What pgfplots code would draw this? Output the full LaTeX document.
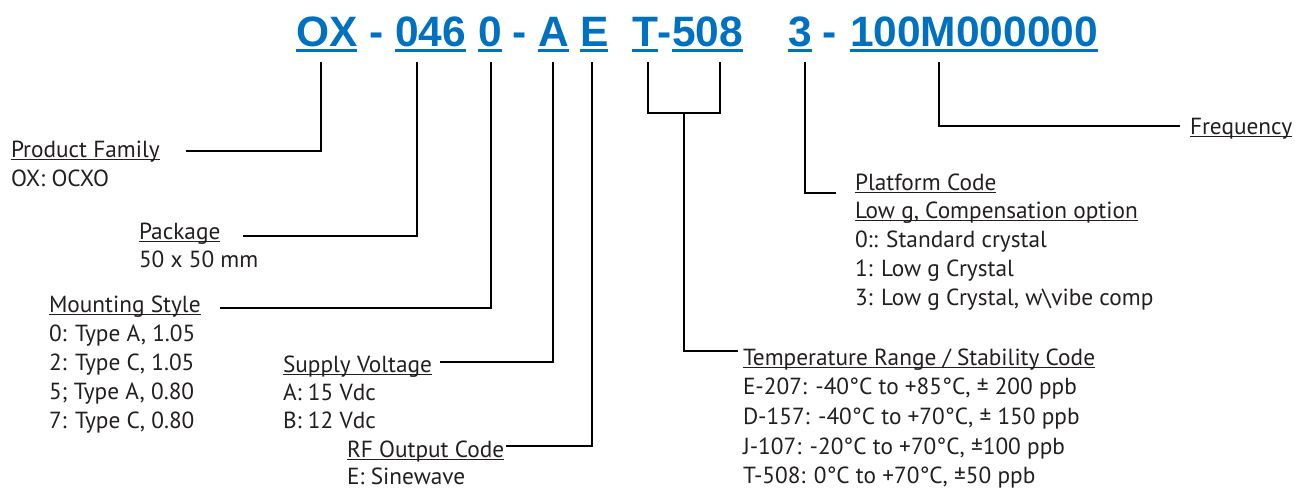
\documentclass[border=0pt]{standalone}
\usepackage{pgfplots}
\pgfplotsset{compat=1.18}
\usepackage{fontspec}
\setmainfont{PT Sans}
\newfontfamily\hdr{Liberation Sans}
\definecolor{code}{RGB}{0,112,192}
\definecolor{txt}{RGB}{35,31,32}
\newcommand\ul[1]{\setbox0\hbox{#1}\rlap{\rule[-3pt]{\wd0}{1.2pt}}\box0}
\newcommand\hul[1]{\setbox0\hbox{#1}\rlap{\rule[-5pt]{\wd0}{3pt}}\box0}
\tikzset{t/.style={anchor=base west,inner sep=0pt,outer sep=0pt,font=\fontsize{23.3}{29}\selectfont,text=txt},
 h/.style={anchor=base west,inner sep=0pt,outer sep=0pt,font=\hdr\bfseries\fontsize{42.5}{50}\selectfont,text=code,color=code},
 c/.style={black,solid,line width=2.4pt,mark=none,line join=miter}}
\begin{document}
\begin{tikzpicture}
\begin{axis}[name=ax, width=1295pt, height=487pt, scale only axis,
  xmin=0, xmax=1295, ymin=0, ymax=487, y dir=reverse, hide axis, clip=false]
% connector lines
\addplot[c] coordinates {(321,62) (321,151) (186,151)};
\addplot[c] coordinates {(417,62) (417,236) (243,236)};
\addplot[c] coordinates {(491,62) (491,308) (220,308)};
\addplot[c] coordinates {(553,62) (553,362) (440,362)};
\addplot[c] coordinates {(592,62) (592,446) (506,446)};
\addplot[c] coordinates {(648,62) (648,113) (720,113) (720,62)};
\addplot[c] coordinates {(684,113) (684,351) (738,351)};
\addplot[c] coordinates {(805,62) (805,193) (836,193)};
\addplot[c] coordinates {(939,62) (939,126) (1180,126)};
% header
\node[h] at (axis cs:296,47) {\hul{OX}};
\node[h] at (axis cs:369,47) {-};
\node[h] at (axis cs:395,47) {\hul{046}};
\node[h] at (axis cs:478,47) {\hul{0}};
\node[h] at (axis cs:512,47) {-};
\node[h] at (axis cs:538,47) {\hul{A}};
\node[h] at (axis cs:580,47) {\hul{E}};
\node[h] at (axis cs:632,47) {\hul{T}-\hul{508}};
\node[h] at (axis cs:788,47) {\hul{3}};
\node[h] at (axis cs:822,47) {-};
\node[h] at (axis cs:850,47) {\hul{100M000000}};
% left texts
\node[t] at (axis cs:11,157) {\ul{Product Family}};
\node[t] at (axis cs:11,186) {OX: OCXO};
\node[t] at (axis cs:139,239) {\ul{Package}};
\node[t] at (axis cs:139,267) {50 x 50 mm};
\node[t] at (axis cs:49,312) {\ul{Mounting Style}};
\node[t] at (axis cs:49,341) {0: Type A, 1.05};
\node[t] at (axis cs:49,370) {2: Type C, 1.05};
\node[t] at (axis cs:49,399) {5; Type A, 0.80};
\node[t] at (axis cs:49,428) {7: Type C, 0.80};
\node[t] at (axis cs:283,372) {\ul{Supply Voltage}};
\node[t] at (axis cs:283,400) {A: 15 Vdc};
\node[t] at (axis cs:283,428) {B: 12 Vdc};
\node[t] at (axis cs:347,457) {\ul{RF Output Code}};
\node[t] at (axis cs:347,484) {E: Sinewave};
% right texts
\node[t] at (axis cs:855,190) {\ul{Platform Code}};
\node[t] at (axis cs:855,218) {\ul{Low g, Compensation option}};
\node[t] at (axis cs:855,247) {0:: Standard crystal};
\node[t] at (axis cs:855,276) {1: Low g Crystal};
\node[t] at (axis cs:855,305) {3: Low g Crystal, w\textbackslash vibe comp};
\node[t] at (axis cs:743,365) {\ul{Temperature Range / Stability Code}};
\node[t] at (axis cs:743,394) {E-207: -40°C to +85°C, ± 200 ppb};
\node[t] at (axis cs:743,424) {D-157: -40°C to +70°C, ± 150 ppb};
\node[t] at (axis cs:743,454) {J-107: -20°C to +70°C, ±100 ppb};
\node[t] at (axis cs:743,483) {T-508: 0°C to +70°C, ±50 ppb};
\node[t] at (axis cs:1190,134) {\ul{Frequency}};
\end{axis}
\pgfresetboundingbox
\path (ax.south west) rectangle (ax.north east);
\end{tikzpicture}
\end{document}
